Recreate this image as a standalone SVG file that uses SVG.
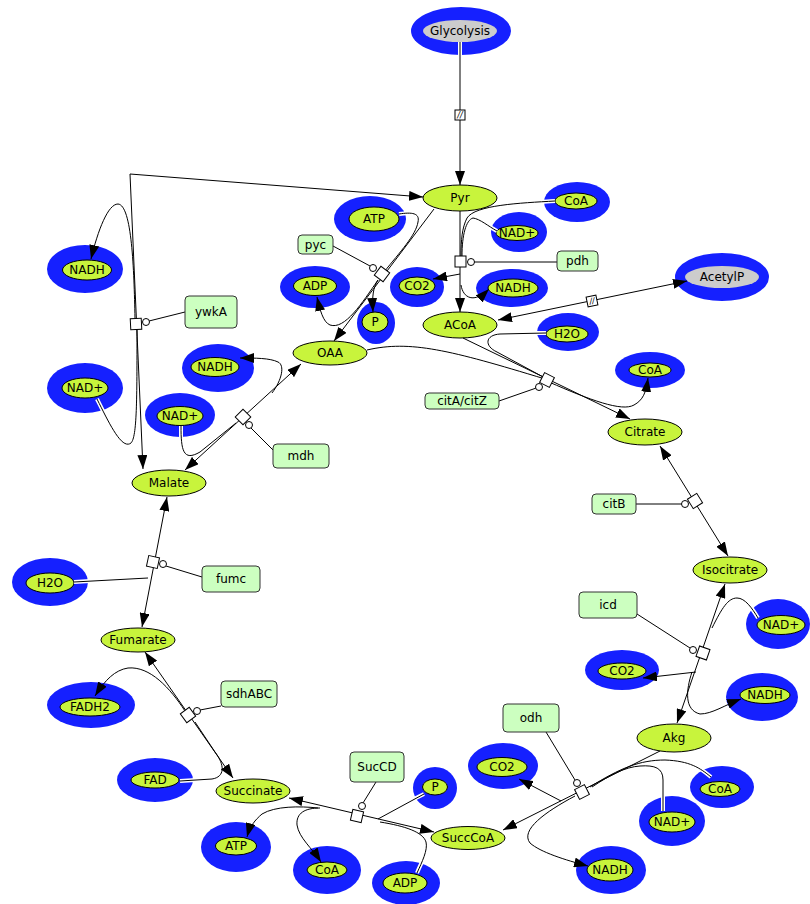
<svg xmlns="http://www.w3.org/2000/svg" width="810" height="904" viewBox="0 0 810 904">
<style>
  .bg{fill:#fff}
  .ring{fill:#1520ff}
  .sc{fill:#c8f43c;stroke:#000;stroke-width:1}
  .gr{fill:#cccccc}
  .enz{fill:#ccffc0;stroke:#333;stroke-width:1}
  .lbl{font-family:"DejaVu Sans","Liberation Sans",sans-serif;font-size:12px;text-anchor:middle;dominant-baseline:central;fill:#000}
  .brk{font-family:"DejaVu Sans","Liberation Sans",sans-serif;font-size:8px;font-style:italic;text-anchor:middle;dominant-baseline:central;fill:#000}
  .ln{fill:none;stroke:#000;stroke-width:1}
  .halo{fill:none;stroke:#fff;stroke-width:4}
  .pr{fill:#fff;stroke:#000;stroke-width:1}
  .arr{marker-end:url(#ah)}
  .both{marker-end:url(#ah);marker-start:url(#ah)}
</style>
<defs>
  <marker id="ah" viewBox="0 0 14 10" refX="14" refY="5" markerWidth="14" markerHeight="10" markerUnits="userSpaceOnUse" orient="auto-start-reverse">
    <path d="M0,0 L14,5 L0,10 z" fill="#000"/>
  </marker>
</defs>
<rect class="bg" x="0" y="0" width="810" height="904"/>

<!-- species -->
<g id="glycolysis"><ellipse class="ring" cx="461" cy="31" rx="50" ry="24"/><ellipse class="gr" cx="460" cy="31" rx="37" ry="11"/><text class="lbl" x="460" y="31">Glycolysis</text></g>
<g id="acetylp"><ellipse class="ring" cx="722" cy="277" rx="47" ry="24"/><ellipse class="gr" cx="722" cy="277" rx="37" ry="11"/><text class="lbl" x="722" y="277">AcetylP</text></g>
<g id="pyr"><ellipse class="sc" cx="460" cy="198" rx="37" ry="13"/><text class="lbl" x="460" y="198">Pyr</text></g>
<g id="atp_pyc"><ellipse class="ring" cx="370" cy="219" rx="36" ry="23"/><ellipse class="sc" cx="374" cy="219" rx="25" ry="12"/><text class="lbl" x="374" y="219">ATP</text></g>
<g id="coa_pdh"><ellipse class="ring" cx="577" cy="202" rx="33" ry="20"/><ellipse class="sc" cx="576" cy="201" rx="21" ry="8"/><text class="lbl" x="576" y="201">CoA</text></g>
<g id="nadp_pdh"><ellipse class="ring" cx="519" cy="232" rx="28" ry="20"/><ellipse class="sc" cx="517" cy="233" rx="21" ry="7.5"/><text class="lbl" x="517" y="233">NAD+</text></g>
<g id="co2_pdh"><ellipse class="ring" cx="417" cy="287" rx="27" ry="20"/><ellipse class="sc" cx="417" cy="286" rx="18" ry="9"/><text class="lbl" x="417" y="286">CO2</text></g>
<g id="nadh_pdh"><ellipse class="ring" cx="512" cy="288" rx="36" ry="19"/><ellipse class="sc" cx="513" cy="288" rx="25" ry="9"/><text class="lbl" x="513" y="288">NADH</text></g>
<g id="acoa"><ellipse class="sc" cx="460" cy="325" rx="37" ry="13"/><text class="lbl" x="460" y="325">ACoA</text></g>
<g id="adp_pyc"><ellipse class="ring" cx="315" cy="287" rx="35" ry="21"/><ellipse class="sc" cx="315" cy="286" rx="21.5" ry="9.5"/><text class="lbl" x="315" y="286">ADP</text></g>
<g id="p_pyc"><ellipse class="ring" cx="376" cy="323" rx="19" ry="21"/><ellipse class="sc" cx="375" cy="322" rx="13" ry="10"/><text class="lbl" x="375" y="322">P</text></g>
<g id="oaa"><ellipse class="sc" cx="330" cy="353" rx="37" ry="12"/><text class="lbl" x="330" y="353">OAA</text></g>
<g id="h2o_cit"><ellipse class="ring" cx="568" cy="332" rx="31" ry="19"/><ellipse class="sc" cx="567" cy="334" rx="21" ry="8"/><text class="lbl" x="567" y="334">H2O</text></g>
<g id="coa_cit"><ellipse class="ring" cx="650" cy="370" rx="35" ry="18"/><ellipse class="sc" cx="650" cy="370" rx="21" ry="7"/><text class="lbl" x="650" y="370">CoA</text></g>
<g id="citrate"><ellipse class="sc" cx="645" cy="432" rx="37" ry="13"/><text class="lbl" x="645" y="432">Citrate</text></g>
<g id="isocitrate"><ellipse class="sc" cx="730" cy="570" rx="37" ry="13"/><text class="lbl" x="730" y="570">Isocitrate</text></g>
<g id="nadp_icd"><ellipse class="ring" cx="778" cy="624" rx="32" ry="25"/><ellipse class="sc" cx="781" cy="625" rx="24" ry="9.5"/><text class="lbl" x="781" y="625">NAD+</text></g>
<g id="co2_icd"><ellipse class="ring" cx="622" cy="670" rx="37" ry="20"/><ellipse class="sc" cx="622" cy="671" rx="24" ry="8"/><text class="lbl" x="622" y="671">CO2</text></g>
<g id="nadh_icd"><ellipse class="ring" cx="762" cy="697" rx="36" ry="24"/><ellipse class="sc" cx="765" cy="695" rx="25" ry="8.5"/><text class="lbl" x="765" y="695">NADH</text></g>
<g id="akg"><ellipse class="sc" cx="674" cy="738" rx="37" ry="14"/><text class="lbl" x="674" y="738">Akg</text></g>
<g id="co2_odh"><ellipse class="ring" cx="503" cy="766" rx="35" ry="23"/><ellipse class="sc" cx="502" cy="767" rx="25" ry="9.5"/><text class="lbl" x="502" y="767">CO2</text></g>
<g id="coa_odh"><ellipse class="ring" cx="722" cy="787" rx="32" ry="21"/><ellipse class="sc" cx="720" cy="789" rx="20" ry="7.5"/><text class="lbl" x="720" y="789">CoA</text></g>
<g id="nadp_odh"><ellipse class="ring" cx="672" cy="821" rx="33" ry="25"/><ellipse class="sc" cx="672" cy="822" rx="23" ry="10"/><text class="lbl" x="672" y="822">NAD+</text></g>
<g id="nadh_odh"><ellipse class="ring" cx="611" cy="870" rx="35" ry="24"/><ellipse class="sc" cx="610" cy="870" rx="23" ry="11"/><text class="lbl" x="610" y="870">NADH</text></g>
<g id="succcoa"><ellipse class="sc" cx="468" cy="838" rx="37" ry="11.5"/><text class="lbl" x="468" y="838">SuccCoA</text></g>
<g id="p_sucd"><ellipse class="ring" cx="435" cy="788" rx="22" ry="21"/><ellipse class="sc" cx="435" cy="787" rx="12.5" ry="8"/><text class="lbl" x="435" y="787">P</text></g>
<g id="adp_sucd"><ellipse class="ring" cx="406" cy="883" rx="34" ry="22"/><ellipse class="sc" cx="405" cy="883" rx="22" ry="10"/><text class="lbl" x="405" y="883">ADP</text></g>
<g id="coa_sucd"><ellipse class="ring" cx="327" cy="870" rx="34" ry="24"/><ellipse class="sc" cx="327" cy="870" rx="20" ry="8"/><text class="lbl" x="327" y="870">CoA</text></g>
<g id="atp_sucd"><ellipse class="ring" cx="236" cy="847" rx="35" ry="25"/><ellipse class="sc" cx="236" cy="846" rx="20.5" ry="9"/><text class="lbl" x="236" y="846">ATP</text></g>
<g id="succinate"><ellipse class="sc" cx="253" cy="791" rx="37" ry="12"/><text class="lbl" x="253" y="791">Succinate</text></g>
<g id="fadh2"><ellipse class="ring" cx="91" cy="705" rx="44" ry="23"/><ellipse class="sc" cx="90" cy="707" rx="30" ry="9"/><text class="lbl" x="90" y="707">FADH2</text></g>
<g id="fad"><ellipse class="ring" cx="155" cy="780" rx="38" ry="22"/><ellipse class="sc" cx="155" cy="780" rx="24" ry="8"/><text class="lbl" x="155" y="780">FAD</text></g>
<g id="fumarate"><ellipse class="sc" cx="138" cy="640" rx="37" ry="12"/><text class="lbl" x="138" y="640">Fumarate</text></g>
<g id="h2o_fumc"><ellipse class="ring" cx="50" cy="582" rx="38" ry="24"/><ellipse class="sc" cx="50" cy="583" rx="24" ry="10"/><text class="lbl" x="50" y="583">H2O</text></g>
<g id="malate"><ellipse class="sc" cx="169" cy="483" rx="37" ry="13"/><text class="lbl" x="169" y="483">Malate</text></g>
<g id="nadp_ywka"><ellipse class="ring" cx="85" cy="388" rx="38" ry="25"/><ellipse class="sc" cx="85" cy="388" rx="23" ry="10"/><text class="lbl" x="85" y="388">NAD+</text></g>
<g id="nadh_ywka"><ellipse class="ring" cx="85" cy="269" rx="38" ry="24"/><ellipse class="sc" cx="87" cy="270" rx="24.5" ry="10"/><text class="lbl" x="87" y="270">NADH</text></g>
<g id="nadh_mdh"><ellipse class="ring" cx="218" cy="368" rx="36" ry="24"/><ellipse class="sc" cx="215" cy="367" rx="24" ry="9.5"/><text class="lbl" x="215" y="367">NADH</text></g>
<g id="nadp_mdh"><ellipse class="ring" cx="180" cy="415" rx="35" ry="22"/><ellipse class="sc" cx="180" cy="416" rx="23" ry="9.5"/><text class="lbl" x="180" y="416">NAD+</text></g>

<!-- connectors -->
<g id="connectors">
  <!-- glycolysis to pyruvate -->
  <path class="halo" d="M460,42 L460,56"/>
  <path class="ln arr" d="M460,42 L460,185"/>
  <!-- ywkA: malate / pyruvate -->
  <path class="ln both" d="M143,469 L130,174 L423,197"/>
  <path class="ln arr" d="M135,318 C134,270 132,205 118,204 C108,204 98,230 91,259"/>
  <path class="halo" d="M97,399 C110,425 122,450 131,443"/>
  <path class="ln" d="M97,399 C110,425 122,450 131,443 C137,437 137,400 137,330"/>
  <!-- malate dehydrogenase -->
  <path class="ln both" d="M185,470 L301,364"/>
  <path class="ln arr" d="M272,393 C282,380 285,365 278,362 C270,358 255,358 240,358"/>
  <path class="halo" d="M181,426 L181,440"/>
  <path class="ln" d="M181,426 C181,450 183,462 200,452 L236,423"/>
  <!-- pyc -->
  <path class="ln arr" d="M434,209 L334,341"/>
  <path class="halo" d="M399,214 C412,212 420,213 418,222"/>
  <path class="ln" d="M399,214 C412,212 420,213 418,222 C416,235 400,252 384,272"/>
  <path class="ln arr" d="M378,280 C362,303 345,330 330,325 C323,322 320,310 317,297"/>
  <path class="ln arr" d="M378,280 C373,288 372,296 373,312"/>
  <!-- pdh -->
  <path class="ln arr" d="M460,211 L460,312"/>
  <path class="halo" d="M555,201 C540,202 530,203 520,203"/>
  <path class="ln" d="M555,201 C520,203 475,205 467,218 C462,228 461,240 461,256"/>
  <path class="halo" d="M497,231 C492,228 488,226 484,223"/>
  <path class="ln" d="M497,231 C488,226 480,219 473,218 C466,220 462,235 462,256"/>
  <path class="ln arr" d="M460,274 L433,279"/>
  <path class="ln arr" d="M461,285 C463,298 474,304 489,289"/>
  <!-- acetyl-CoA / acetyl phosphate -->
  <path class="ln both" d="M498,320 L687,281"/>
  <!-- citrate synthase -->
  <path class="ln arr" d="M463,338 L630,419"/>
  <path class="ln" d="M367,350 C410,340 450,350 545,379"/>
  <path class="halo" d="M546,333 L535,333"/>
  <path class="ln" d="M546,333 L500,334 C485,335 484,346 497,352 L545,378"/>
  <path class="ln arr" d="M549,382 C590,400 622,412 634,405 C643,400 646,393 648,378"/>
  <!-- aconitase -->
  <path class="ln both" d="M660,446 L728,556"/>
  <!-- isocitrate dehydrogenase -->
  <path class="ln both" d="M725,584 L677,723"/>
  <path class="halo" d="M758,618 C755,613 752,608 748,604"/>
  <path class="ln" d="M758,618 C752,608 745,598 737,598 C728,598 722,608 712,628"/>
  <path class="ln arr" d="M696,672 L643,678"/>
  <path class="ln arr" d="M692,672 C686,690 684,710 700,714 C712,714 725,705 741,699"/>
  <!-- 2-oxoglutarate dehydrogenase -->
  <path class="ln arr" d="M660,751 L503,830"/>
  <path class="ln arr" d="M561,801 L519,779"/>
  <path class="halo" d="M711,777 C705,772 700,768 692,764"/>
  <path class="ln" d="M711,777 C700,768 690,761 665,760 C640,760 620,768 590,787"/>
  <path class="halo" d="M663,811 L663,795"/>
  <path class="ln" d="M663,811 L663,780 C663,768 655,765 640,766 C625,767 610,775 592,787"/>
  <path class="ln arr" d="M575,796 C545,812 520,830 530,843 C540,852 565,860 588,866"/>
  <!-- succinyl-CoA synthetase -->
  <path class="ln both" d="M289,798 L434,832"/>
  <path class="halo" d="M424,794 L414,799"/>
  <path class="ln" d="M424,794 L378,819"/>
  <path class="halo" d="M417,873 C419,868 421,864 423,860"/>
  <path class="ln" d="M417,873 C422,862 428,850 426,842 C423,832 405,826 380,822"/>
  <path class="ln arr" d="M318,808 C300,806 275,806 262,814 C255,820 250,826 247,837"/>
  <path class="ln arr" d="M320,808 C305,808 296,813 297,825 C299,838 312,848 321,862"/>
  <!-- succinate dehydrogenase -->
  <path class="ln both" d="M145,652 L233,778"/>
  <path class="ln arr" d="M185,711 C170,688 150,666 128,668 C115,670 105,680 95,696"/>
  <path class="halo" d="M180,781 L196,780"/>
  <path class="ln" d="M180,781 L212,779 C225,777 225,765 215,752 L195,722"/>
  <!-- fumarase -->
  <path class="ln both" d="M167,497 L142,627"/>
  <path class="halo" d="M74,582 L90,581"/>
  <path class="ln" d="M74,582 L148,578"/>
  <!-- modulation links -->
  <path class="ln" d="M474,262 L557,262"/>
  <path class="ln" d="M333,246 L370,266"/>
  <path class="ln" d="M149,321 L185,312"/>
  <path class="ln" d="M251,428 L275,452"/>
  <path class="ln" d="M542,386 L499,401"/>
  <path class="ln" d="M682,504 L636,504"/>
  <path class="ln" d="M690,648 L637,614"/>
  <path class="ln" d="M575,780 L546,732"/>
  <path class="ln" d="M363,803 L376,782"/>
  <path class="ln" d="M200,710 L221,706"/>
  <path class="ln" d="M166,566 L202,577"/>
</g>

<!-- break markers on the glycolysis and acetyl phosphate links -->
<g id="break_glycolysis"><rect class="pr" x="455" y="110" width="10" height="10"/><text class="brk" x="460" y="115">//</text></g>
<g id="break_acetylp" transform="translate(592,301) rotate(-11.7)"><rect class="pr" x="-5" y="-5" width="10" height="10"/><text class="brk" x="0" y="0">//</text></g>

<!-- process glyphs with catalysis circles -->
<g id="proc_pdh"><rect class="pr" x="-5.5" y="-5.5" width="11" height="11" transform="translate(460.5,261.5)"/><circle class="pr" cx="471" cy="262" r="3.5"/></g>
<g id="proc_pyc"><rect class="pr" x="-5.5" y="-5.5" width="11" height="11" transform="translate(382,274) rotate(37)"/><circle class="pr" cx="373" cy="268" r="3.5"/></g>
<g id="proc_ywka"><rect class="pr" x="-5.5" y="-5.5" width="11" height="11" transform="translate(136,324) rotate(-3)"/><circle class="pr" cx="146" cy="322" r="3.5"/></g>
<g id="proc_mdh"><rect class="pr" x="-5.5" y="-5.5" width="11" height="11" transform="translate(243,417) rotate(45)"/><circle class="pr" cx="249" cy="425" r="3.5"/></g>
<g id="proc_cit"><rect class="pr" x="-5.5" y="-5.5" width="11" height="11" transform="translate(547,380) rotate(27)"/><circle class="pr" cx="539" cy="387" r="3.5"/></g>
<g id="proc_citb"><rect class="pr" x="-5.5" y="-5.5" width="11" height="11" transform="translate(695,501) rotate(58)"/><circle class="pr" cx="685" cy="504" r="3.5"/></g>
<g id="proc_icd"><rect class="pr" x="-5.5" y="-5.5" width="11" height="11" transform="translate(703,653) rotate(19)"/><circle class="pr" cx="693" cy="650" r="3.5"/></g>
<g id="proc_odh"><rect class="pr" x="-5.5" y="-5.5" width="11" height="11" transform="translate(582,792) rotate(-27)"/><circle class="pr" cx="577" cy="783" r="3.5"/></g>
<g id="proc_sucd"><rect class="pr" x="-5.5" y="-5.5" width="11" height="11" transform="translate(357,816) rotate(13)"/><circle class="pr" cx="362" cy="806" r="3.5"/></g>
<g id="proc_sdh"><rect class="pr" x="-5.5" y="-5.5" width="11" height="11" transform="translate(188,715) rotate(54)"/><circle class="pr" cx="197" cy="711" r="3.5"/></g>
<g id="proc_fumc"><rect class="pr" x="-5.5" y="-5.5" width="11" height="11" transform="translate(153,562) rotate(12)"/><circle class="pr" cx="163" cy="564" r="3.5"/></g>

<!-- enzymes -->
<g id="pyc"><rect class="enz" x="298" y="235" width="35" height="19" rx="4"/><text class="lbl" x="315.5" y="244.5">pyc</text></g>
<g id="pdh"><rect class="enz" x="557" y="251" width="41" height="20" rx="4"/><text class="lbl" x="577.5" y="261">pdh</text></g>
<g id="ywkA"><rect class="enz" x="185" y="296" width="52" height="32" rx="4"/><text class="lbl" x="211" y="312">ywkA</text></g>
<g id="mdh"><rect class="enz" x="273" y="444" width="56" height="24" rx="4"/><text class="lbl" x="301" y="456">mdh</text></g>
<g id="citA_citZ"><rect class="enz" x="425" y="393" width="74" height="16" rx="4"/><text class="lbl" x="462" y="401">citA/citZ</text></g>
<g id="citB"><rect class="enz" x="592" y="494" width="44" height="20" rx="4"/><text class="lbl" x="614" y="504">citB</text></g>
<g id="icd"><rect class="enz" x="579" y="592" width="58" height="26" rx="4"/><text class="lbl" x="608" y="605">icd</text></g>
<g id="odh"><rect class="enz" x="503" y="704" width="56" height="28" rx="4"/><text class="lbl" x="531" y="718">odh</text></g>
<g id="SucCD"><rect class="enz" x="350" y="752" width="54" height="30" rx="4"/><text class="lbl" x="377" y="767">SucCD</text></g>
<g id="sdhABC"><rect class="enz" x="221" y="681" width="56" height="26" rx="4"/><text class="lbl" x="249" y="694">sdhABC</text></g>
<g id="fumc"><rect class="enz" x="202" y="566" width="58" height="26" rx="4"/><text class="lbl" x="231" y="579">fumc</text></g>
</svg>
